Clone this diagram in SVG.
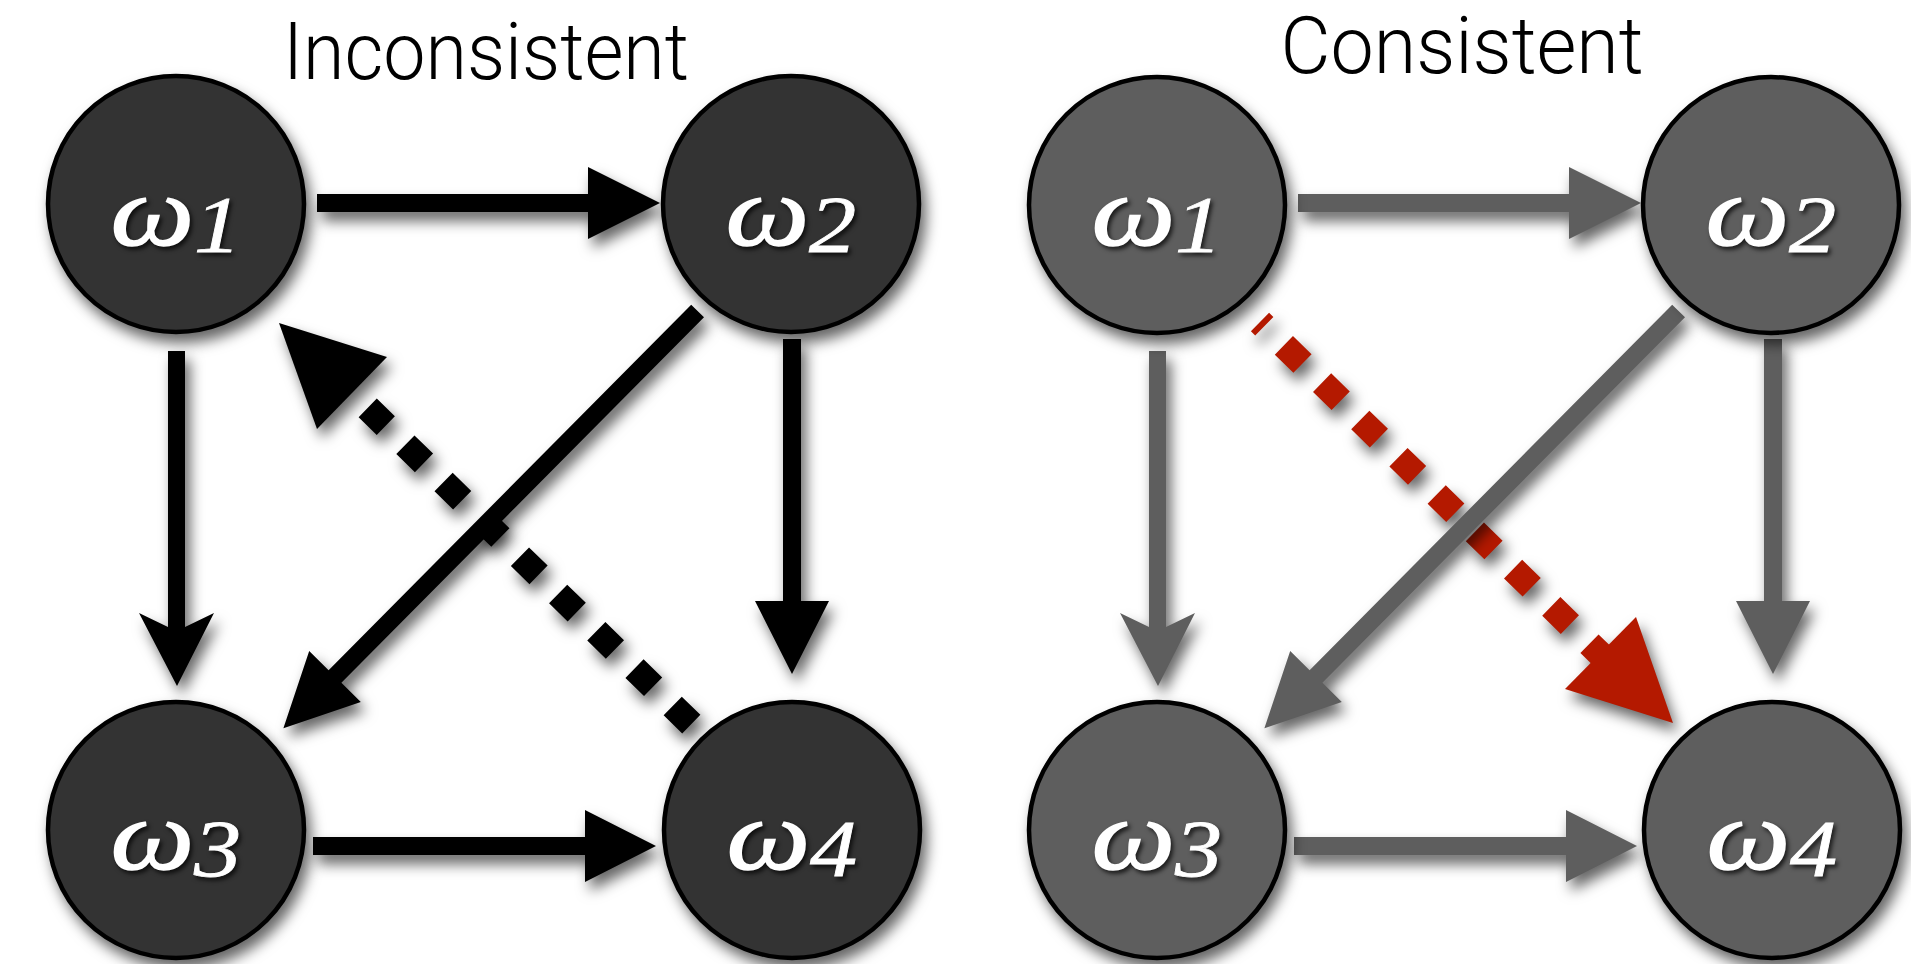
<svg xmlns="http://www.w3.org/2000/svg" width="1911" height="964" viewBox="0 0 1911 964">
  <defs>
    <!-- soft drop shadow used by nodes and connectors -->
    <filter id="shadow" x="-50%" y="-50%" width="200%" height="200%" color-interpolation-filters="sRGB">
      <feDropShadow dx="5" dy="9" stdDeviation="7" flood-color="#000" flood-opacity="0.6"/>
    </filter>
    <!-- faint shadow behind the white labels -->
    <filter id="textShadow" x="-20%" y="-20%" width="140%" height="140%" color-interpolation-filters="sRGB">
      <feDropShadow dx="2" dy="3" stdDeviation="2" flood-color="#000" flood-opacity="0.7"/>
    </filter>
  </defs>
  <style>
    .title { font-family: "Roboto", "Liberation Sans", Arial, sans-serif; font-weight: 300; font-size: 80px; fill: #000; text-anchor: middle; }
    .node circle { stroke: #000; stroke-width: 4.5; filter: url(#shadow); }
    .dark circle { fill: #333333; }
    .grey circle { fill: #5e5e5e; }
    .label { font-style: italic; font-size: 100px; fill: #fff; stroke: #fff; stroke-width: 1.6; text-anchor: middle; filter: url(#textShadow); }
    .sub { font-size: 80px; stroke-width: 0.8; }
    .edge { filter: url(#shadow); }
    .black { fill: #000; }
    .gray { fill: #5e5e5e; }
    .red { fill: #b41900; }
    .dash { fill: none; stroke-width: 26; stroke-dasharray: 26 27.39; stroke-linecap: butt; }
  </style>

  <rect width="1911" height="964" fill="#fff"/>

  <!-- panel titles -->
  <text class="title" x="486" y="79" textLength="406" lengthAdjust="spacingAndGlyphs">Inconsistent</text>
  <text class="title" x="1462" y="73" textLength="363" lengthAdjust="spacingAndGlyphs">Consistent</text>

  <!-- connectors -->
  <g id="connectors">
    <!-- left panel (black) -->
    <g id="left-w4-w1" class="edge">
      <path class="dash" stroke="#000" d="M691.3,724.1 L367.7,407.9"/>
      <polygon class="black" points="279,323 387,357 317,429"/>
    </g>
    <path id="left-w1-w2" class="edge black" d="M317,194 H588 V167 L660,203 L588,239 V212 H317 Z"/>
    <path id="left-w3-w4" class="edge black" d="M313,837 H585 V810 L656,846 L585,882 V855 H313 Z"/>
    <path id="left-w1-w3" class="edge black" d="M168,351 V627 L139,613 L177,686 L214,613 L185,627 V351 Z"/>
    <path id="left-w2-w4" class="edge black" d="M783,339 V601 H755 L792,674 L829,601 H801 V339 Z"/>
    <path id="left-w2-w3" class="edge black" d="M691.2,304.7 L328.6,670.2 L309.2,650.9 L283.4,728.3 L360.8,702.1 L341.4,682.8 L704,317.3 Z"/>

    <!-- right panel (grey, red highlighted edge) -->
    <g id="right-w1-w4" class="edge">
      <path class="dash" stroke="#b41900" stroke-dashoffset="20" d="M1260,322 L1608.1,661.9"/>
      <polygon class="red" points="1673,723 1636,617 1565,689"/>
    </g>
    <path id="right-w1-w2" class="edge gray" d="M1298,194 H1569 V167 L1641,203 L1569,239 V212 H1298 Z"/>
    <path id="right-w3-w4" class="edge gray" d="M1294,837 H1566 V810 L1637,846 L1566,882 V855 H1294 Z"/>
    <path id="right-w1-w3" class="edge gray" d="M1149,351 V627 L1120,613 L1158,686 L1195,613 L1166,627 V351 Z"/>
    <path id="right-w2-w4" class="edge gray" d="M1764,339 V601 H1736 L1773,674 L1810,601 H1782 V339 Z"/>
    <path id="right-w2-w3" class="edge gray" d="M1672.2,304.7 L1309.6,670.2 L1290.2,650.9 L1264.4,728.3 L1341.8,702.1 L1322.4,682.8 L1685,317.3 Z"/>
  </g>

  <!-- left panel nodes: labels are widened slightly around their anchor -->
  <g id="left-w1" class="node dark">
    <circle cx="176" cy="204" r="128"/>
    <text class="label" font-family="Liberation Serif, Times New Roman, serif" transform="translate(176 245) scale(1.18 1)">ω<tspan class="sub" dy="7">1</tspan></text>
  </g>
  <g id="left-w2" class="node dark">
    <circle cx="791" cy="204" r="128"/>
    <text class="label" font-family="Liberation Serif, Times New Roman, serif" transform="translate(791 245) scale(1.18 1)">ω<tspan class="sub" dy="7">2</tspan></text>
  </g>
  <g id="left-w3" class="node dark">
    <circle cx="176" cy="830" r="128"/>
    <text class="label" font-family="Liberation Serif, Times New Roman, serif" transform="translate(176 869) scale(1.18 1)">ω<tspan class="sub" dy="7">3</tspan></text>
  </g>
  <g id="left-w4" class="node dark">
    <circle cx="792" cy="830" r="128"/>
    <text class="label" font-family="Liberation Serif, Times New Roman, serif" transform="translate(792 869) scale(1.18 1)">ω<tspan class="sub" dy="7">4</tspan></text>
  </g>

  <!-- right panel nodes -->
  <g id="right-w1" class="node grey">
    <circle cx="1157" cy="205" r="128"/>
    <text class="label" font-family="Liberation Serif, Times New Roman, serif" transform="translate(1157 245) scale(1.18 1)">ω<tspan class="sub" dy="7">1</tspan></text>
  </g>
  <g id="right-w2" class="node grey">
    <circle cx="1771" cy="205" r="128"/>
    <text class="label" font-family="Liberation Serif, Times New Roman, serif" transform="translate(1771 245) scale(1.18 1)">ω<tspan class="sub" dy="7">2</tspan></text>
  </g>
  <g id="right-w3" class="node grey">
    <circle cx="1157" cy="830" r="128"/>
    <text class="label" font-family="Liberation Serif, Times New Roman, serif" transform="translate(1157 869) scale(1.18 1)">ω<tspan class="sub" dy="7">3</tspan></text>
  </g>
  <g id="right-w4" class="node grey">
    <circle cx="1772" cy="830" r="128"/>
    <text class="label" font-family="Liberation Serif, Times New Roman, serif" transform="translate(1772 869) scale(1.18 1)">ω<tspan class="sub" dy="7">4</tspan></text>
  </g>
</svg>
